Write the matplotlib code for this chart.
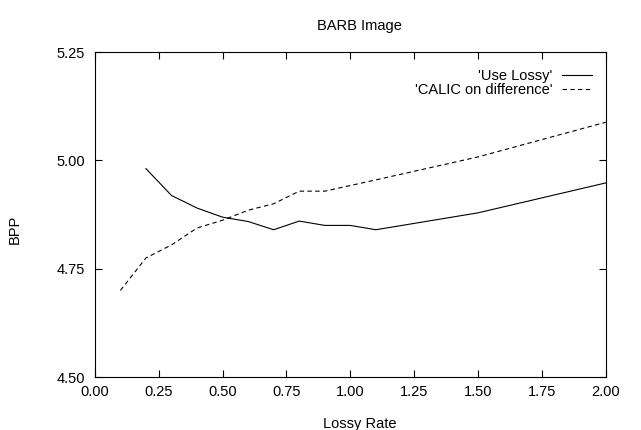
import matplotlib
matplotlib.use("Agg")
import matplotlib.pyplot as plt

plt.rcParams.update({"font.family": ["Liberation Sans", "DejaVu Sans"], "font.size": 10.5})

# 'Use Lossy'
lossy_x = [0.2, 0.3, 0.4, 0.5, 0.6, 0.7, 0.8, 0.9, 1.0, 1.1, 1.5, 2.0]
lossy_y = [4.981, 4.919, 4.890, 4.869, 4.859, 4.840, 4.860, 4.850, 4.850, 4.840, 4.879, 4.948]

# 'CALIC on difference'
calic_x = [0.1, 0.2, 0.3, 0.4, 0.5, 0.6, 0.7, 0.8, 0.9, 1.0, 1.1, 1.5, 2.0]
calic_y = [4.700, 4.775, 4.805, 4.844, 4.862, 4.885, 4.900, 4.929, 4.929, 4.942, 4.955, 5.008, 5.088]

xticks = [0.0, 0.25, 0.5, 0.75, 1.0, 1.25, 1.5, 1.75, 2.0]
yticks = [4.50, 4.75, 5.00, 5.25]

fig = plt.figure(figsize=(6.41, 4.30), dpi=100)
ax = fig.add_axes([0.148, 0.123, 0.797, 0.756])

ax.plot(lossy_x, lossy_y, color="black", lw=0.8, label="'Use Lossy'")
ax.plot(calic_x, calic_y, color="black", lw=0.8, ls=(0, (4, 3)), label="'CALIC on difference'")

ax.set_xlim(0, 2.0)
ax.set_ylim(4.5, 5.25)
ax.set_xticks(xticks)
ax.set_xticklabels([f"{t:.2f}" for t in xticks])
ax.set_yticks(yticks)
ax.set_yticklabels([f"{t:.2f}" for t in yticks])
ax.tick_params(direction="in", length=5, width=0.8, top=True, right=True)
ax.tick_params(axis="y", pad=7)
ax.tick_params(axis="x", pad=6)
for sp in ax.spines.values():
    sp.set_linewidth(0.8)

ax.set_title("BARB Image", fontsize=10.5, x=0.518, pad=16)
ax.set_xlabel("Lossy Rate")
ax.xaxis.set_label_coords(0.518, -0.123)
ax.set_ylabel("BPP")
ax.yaxis.set_label_coords(-0.143, 0.455)

ax.legend(loc="upper right", frameon=False, markerfirst=False, handlelength=2.1,
          handletextpad=0.6, labelspacing=0.0, bbox_to_anchor=(0.985, 0.965),
          borderaxespad=0.0)

fig.savefig("out.png", dpi=100, facecolor="white")
